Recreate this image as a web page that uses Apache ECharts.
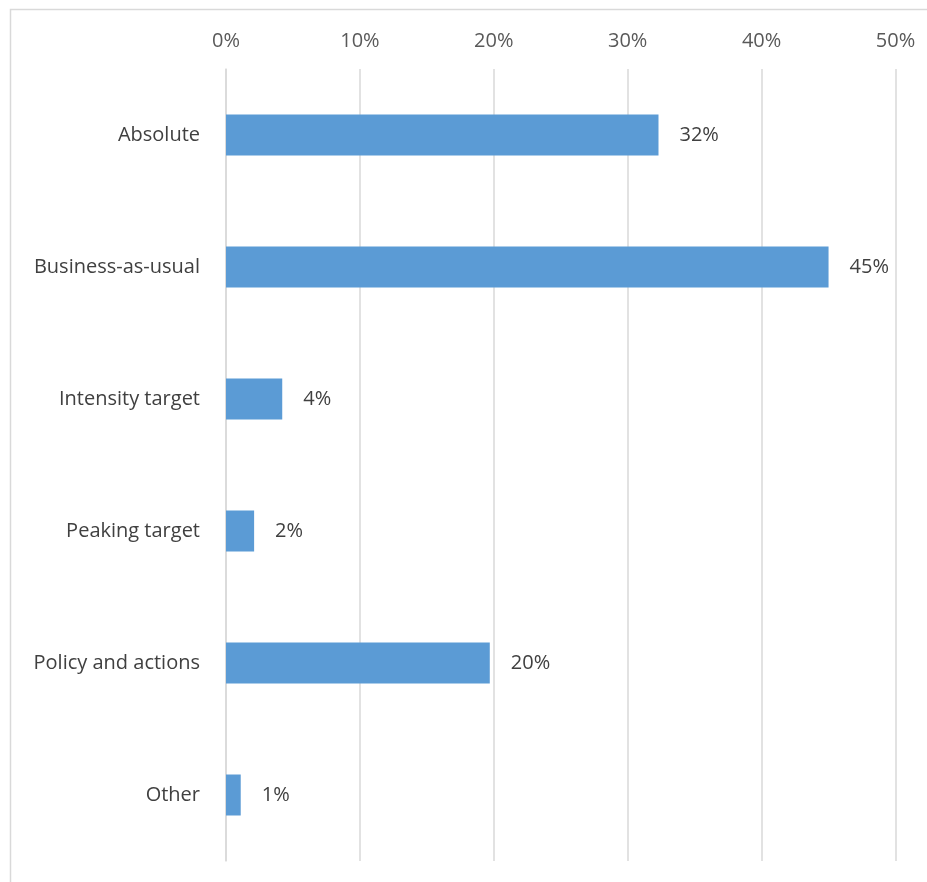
<!DOCTYPE html>
<html>
<head>
<meta charset="utf-8">
<script src="https://cdn.jsdelivr.net/npm/echarts@6/dist/echarts.min.js"></script>
<style>
html,body{margin:0;padding:0;background:#fff;}
#chart{width:927px;height:882px;}
</style>
</head>
<body>
<div id="chart"></div>
<script>
const categories = ["Absolute", "Business-as-usual", "Intensity target", "Peaking target", "Policy and actions", "Other"];
const values = [32.3, 45.0, 4.2, 2.1, 19.7, 1.1];
const tickLabels = ["0%", "10%", "20%", "30%", "40%", "50%"];

const FONT = "'Open Sans', Lato, sans-serif";
const chart = echarts.init(document.getElementById('chart'));
chart.setOption({
  animation: false,
  backgroundColor: '#ffffff',
  graphic: [{
    type: 'rect',
    shape: {x: 10.5, y: 9.5, width: 1000, height: 1000},
    style: {fill: 'none', stroke: '#d9d9d9', lineWidth: 1.5},
    silent: true
  }],
  grid: {left: 226, right: 31.5, top: 69, bottom: 21, containLabel: false},
  xAxis: {
    type: 'value',
    position: 'top',
    min: 0, max: 50, interval: 10,
    axisLine: {show: false},
    axisTick: {show: false},
    axisLabel: {
      margin: 18,
      color: '#595959',
      fontFamily: FONT,
      fontSize: 20,
      formatter: function (v) { return tickLabels[Math.round(v / 10)]; }
    },
    splitLine: {show: true, lineStyle: {color: '#d9d9d9', width: 1.5}}
  },
  yAxis: {
    type: 'category',
    data: categories,
    inverse: true,
    axisLine: {show: true, lineStyle: {color: '#d9d9d9', width: 1.5}},
    axisTick: {show: false},
    axisLabel: {margin: 26, color: '#404040', fontFamily: FONT, fontSize: 20}
  },
  series: [{
    type: 'bar',
    data: values,
    barWidth: 41,
    itemStyle: {color: '#5b9bd5'},
    label: {
      show: true,
      position: 'right',
      distance: 21,
      color: '#404040',
      fontFamily: FONT,
      fontSize: 20,
      formatter: function (p) { return Math.round(p.value) + '%'; }
    }
  }]
});
</script>
</body>
</html>
